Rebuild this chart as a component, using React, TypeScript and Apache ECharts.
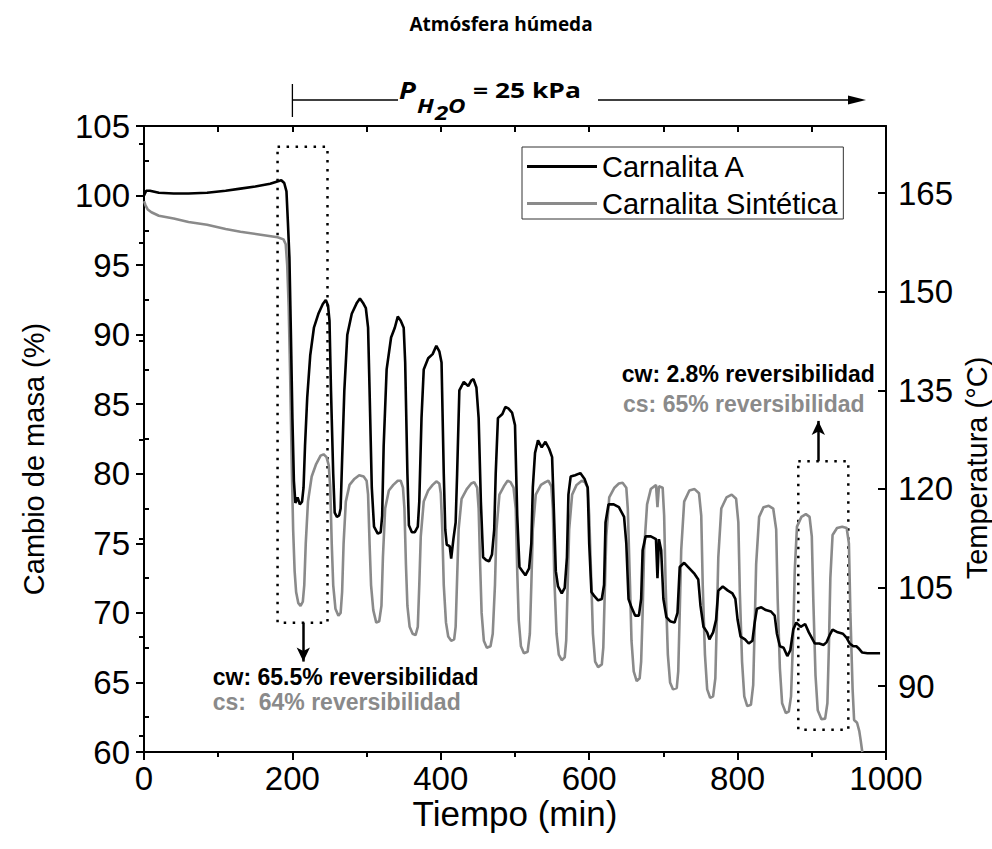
import React, { useEffect, useRef } from 'react';
import * as echarts from 'echarts';

// Carnalita A (black)
const timeA = [0, 3, 8, 20, 40, 60, 85, 110, 130, 150, 170, 185, 189, 192, 194, 196, 198, 200, 202, 204, 207, 210, 213, 215, 217, 220, 224, 229, 235, 241, 245, 248, 250, 252, 255, 257, 260, 263, 265, 267, 270, 274, 280, 287, 291, 295, 299, 302, 304, 307, 310, 315, 319, 321, 323, 327, 333, 338, 342, 346, 350, 352, 355, 357, 361, 365, 369, 371, 374, 377, 383, 389, 394, 398, 401, 404, 406, 408, 412, 414, 417, 420, 422, 425, 431, 437, 441, 444, 448, 451, 454, 457, 461, 465, 469, 472, 474, 477, 483, 487, 491, 496, 500, 503, 506, 510, 514, 519, 522, 524, 527, 531, 536, 541, 546, 550, 552, 555, 558, 563, 567, 570, 572, 575, 581, 588, 594, 598, 600, 603, 607, 612, 617, 620, 622, 626, 633, 640, 647, 650, 653, 657, 662, 667, 670, 672, 676, 683, 690, 692, 694, 697, 700, 704, 709, 715, 719, 722, 728, 735, 742, 747, 750, 754, 759, 762, 767, 771, 774, 780, 787, 793, 797, 800, 804, 810, 815, 820, 823, 826, 832, 838, 845, 850, 853, 857, 862, 867, 871, 875, 879, 885, 891, 896, 900, 904, 910, 916, 920, 924, 928, 935, 942, 947, 951, 956, 960, 964, 968, 975, 985, 992];
const masaA = [100.0, 100.35, 100.35, 100.2, 100.15, 100.15, 100.2, 100.35, 100.5, 100.65, 100.85, 101.1, 100.9, 100.3, 98, 95.5, 90, 84, 79.5, 77.9, 78.3, 77.8, 78.0, 79, 82, 85.5, 88.5, 90.5, 91.5, 92.2, 92.5, 92.1, 91, 86, 80, 77.2, 76.9, 77.0, 77.5, 81, 86, 90, 91.5, 92.3, 92.6, 92.3, 91.9, 90.5, 86, 79, 76.2, 75.7, 75.8, 77, 82, 87.5, 89.8, 90.5, 91.3, 91.0, 90.5, 88, 80, 76.3, 75.8, 75.8, 76.2, 78, 84, 87.5, 88.3, 88.6, 89.2, 88.8, 88, 80, 76, 74.9, 74.8, 73.9, 75.3, 76.5, 80, 86, 86.6, 86.3, 86.7, 86.8, 86.2, 84, 78, 74, 73.8, 73.7, 74.2, 76, 80, 84, 84.3, 84.8, 84.7, 84.4, 83.5, 77, 73.3, 73, 72.7, 73.2, 75, 79, 81.5, 82.4, 81.9, 82.3, 81.8, 81.2, 78, 73, 71.9, 71.4, 71.8, 74, 78.5, 79.8, 79.9, 80.05, 79.6, 79.0, 75, 71.5, 71.2, 70.9, 71.0, 72, 76.5, 77.8, 77.8, 77.6, 76.9, 75, 71, 70.4, 69.8, 69.8, 71, 74.5, 75.5, 75.5, 75.3, 72.5, 75.3, 74.5, 71, 69.7, 69.4, 69.3, 70, 73.3, 73.6, 73.2, 72.8, 72.4, 70.5, 69, 68.6, 68.1, 68.6, 69.5, 71.6, 71.9, 71.6, 71.4, 71.0, 69.5, 68.3, 68.1, 67.8, 68.0, 69.3, 70.3, 70.4, 70.2, 70.1, 69.8, 68.5, 67.6, 67.5, 66.9, 67.3, 68.8, 69.3, 69.0, 69.2, 68.6, 68.2, 67.8, 67.8, 67.7, 67.9, 68.4, 68.8, 68.6, 68.5, 68.2, 67.8, 67.6, 67.6, 67.4, 67.15, 67.1, 67.1, 67.1];

// Carnalita Sintética (gray)
const timeS = [0, 2, 5, 10, 20, 40, 60, 85, 110, 130, 155, 180, 188, 191, 193, 195, 197, 199, 201, 203, 205, 208, 211, 214, 216, 218, 221, 226, 232, 238, 242, 246, 249, 251, 253, 255, 258, 262, 265, 267, 269, 272, 277, 283, 290, 296, 300, 302, 304, 306, 309, 313, 317, 320, 322, 325, 330, 336, 342, 346, 349, 351, 353, 355, 358, 362, 366, 369, 371, 373, 377, 383, 389, 394, 398, 400, 402, 404, 407, 410, 414, 418, 420, 422, 424, 428, 435, 441, 445, 449, 451, 453, 455, 458, 462, 467, 470, 473, 475, 479, 485, 490, 494, 498, 501, 503, 505, 508, 512, 517, 520, 522, 524, 528, 535, 541, 545, 549, 551, 553, 556, 559, 563, 567, 569, 571, 573, 577, 583, 590, 594, 598, 600, 603, 605, 608, 612, 617, 619, 621, 623, 627, 634, 640, 645, 650, 652, 655, 657, 660, 664, 668, 670, 672, 674, 678, 683, 690, 692, 694, 699, 701, 703, 706, 709, 713, 718, 720, 722, 724, 728, 735, 742, 748, 751, 753, 756, 759, 763, 767, 770, 772, 774, 778, 785, 792, 798, 801, 803, 806, 809, 813, 818, 821, 823, 825, 829, 835, 842, 848, 852, 854, 857, 860, 865, 869, 872, 875, 877, 880, 886, 892, 897, 900, 902, 905, 908, 913, 918, 921, 923, 925, 928, 934, 941, 947, 950, 952, 955, 957, 961, 964, 966, 968];
const masaS = [99.6, 99.3, 99.0, 98.8, 98.55, 98.35, 98.1, 97.9, 97.6, 97.4, 97.2, 97.0, 96.85, 96.5, 95, 92, 87, 81, 76, 73, 71.5, 70.7, 70.5, 70.8, 72, 75, 78, 79.8, 80.7, 81.3, 81.4, 81.2, 80.6, 79, 75, 72, 70.3, 69.8, 70.0, 71.5, 75, 78, 79.2, 79.6, 79.9, 79.8, 79.5, 78.5, 75, 72, 70.2, 69.3, 69.4, 70.5, 74, 77.5, 78.8, 79.2, 79.5, 79.5, 79.0, 77.5, 73.5, 70.5, 69.0, 68.5, 68.4, 69, 72, 75.5, 78, 78.8, 79.2, 79.45, 79.3, 78.6, 76, 72, 69.3, 68.3, 68, 68.1, 69, 72.5, 76, 78.2, 78.9, 79.3, 79.4, 79.0, 77.5, 73.5, 70, 68, 67.5, 67.6, 68.5, 72, 76, 78.5, 79.1, 79.5, 79.4, 79.0, 77.5, 73, 69.5, 67.6, 67.1, 67.2, 68.5, 72, 76, 78.5, 79.2, 79.4, 79.5, 79.1, 77.5, 72.5, 68.5, 67, 66.6, 66.8, 68, 72, 76, 78.5, 79.2, 79.5, 79.4, 79.0, 77, 72, 68.5, 66.5, 66.1, 66.3, 67.5, 71.5, 75.5, 78.3, 79.0, 79.3, 79.35, 79.0, 77.5, 72, 68, 65.8, 65.1, 65.3, 66.5, 70, 74.5, 77.8, 78.9, 79.2, 77.6, 79.1, 79.0, 77, 72, 67, 65, 64.5, 64.6, 65.8, 70, 74.5, 78, 78.8, 78.9, 78.6, 77, 72, 67, 64.5, 63.9, 64.0, 65.3, 69.5, 74, 77.5, 78.3, 78.5, 78.2, 76.5, 71.5, 66.5, 64, 63.3, 63.4, 64.8, 69, 73.5, 76.9, 77.6, 77.7, 77.5, 76, 71, 66, 63.5, 62.8, 62.9, 64, 68.5, 73, 76.2, 76.9, 77.1, 76.9, 75.5, 71, 65.5, 63, 62.35, 62.4, 63.5, 67.5, 72.5, 75.6, 76.1, 76.2, 76.1, 75, 70, 64.5, 62.3, 62.1, 61.5, 60.8, 60.0];

// Axis ticks
const massMinorTicks = [62.5, 67.5, 72.5, 77.5, 82.5, 87.5, 92.5, 97.5, 102.5];
const tempLabels = [90, 105, 120, 135, 150, 165];
const tempMinorTicks = [82.5, 97.5, 112.5, 127.5, 142.5, 157.5, 172.5];

const seriesNames = ['Carnalita A', 'Carnalita Sintética'];
const annotLeft = ['cw: 65.5% reversibilidad', 'cs:  64% reversibilidad'];
const annotRight = ['cw: 2.8% reversibilidad', 'cs: 65% reversibilidad'];

const FONT = '"Liberation Sans", Arial, Helvetica, sans-serif';
const GRAY = '#8a8a8a';

export default function App() {
  const ref = useRef<HTMLDivElement>(null);
  useEffect(() => {
    if (!ref.current) return;
    const chart = echarts.init(ref.current, null, { renderer: 'svg' });
    const dataA = timeA.map((t, i) => [t, masaA[i]]);
    const dataS = timeS.map((t, i) => [t, masaS[i]]);
    const axisLineStyle = { color: '#000', width: 2 };
    const hdr = (text: string, x: number, y: number, font: string) => ({
      type: 'text', x, y, scaleX: 1.2, scaleY: 1,
      style: { text, align: 'left', verticalAlign: 'middle', font, fill: '#000' },
    });
    const option: any = {
      animation: false,
      backgroundColor: '#fff',
      textStyle: { fontFamily: FONT },
      grid: { left: 144, right: 106, top: 126, bottom: 97, containLabel: false, outerBoundsMode: 'none' },
      legend: {
        show: true,
        orient: 'vertical',
        left: 522,
        top: 147,
        icon: 'rect',
        itemWidth: 70,
        itemHeight: 3,
        itemGap: 8,
        padding: [5, 6, 1, 5],
        borderColor: '#333',
        borderWidth: 1,
        selectedMode: false,
        data: seriesNames,
        textStyle: { fontSize: 29, color: '#000', fontFamily: FONT },
      },
      xAxis: [
        {
          type: 'value', min: 0, max: 1000, interval: 200, position: 'bottom',
          name: 'Tiempo (min)', nameLocation: 'middle', nameGap: 44, nameMoveOverlap: false,
          nameTextStyle: { fontSize: 35, color: '#000', fontFamily: FONT },
          axisLine: { show: true, onZero: false, lineStyle: axisLineStyle },
          axisTick: { show: true, inside: false, length: 8, lineStyle: axisLineStyle },
          minorTick: { show: true, splitNumber: 2, length: 5, lineStyle: axisLineStyle },
          axisLabel: { fontSize: 33, color: '#000', margin: 10, fontFamily: FONT, formatter: (v: number) => String(v) },
          splitLine: { show: false }, minorSplitLine: { show: false },
        },
        {
          type: 'value', min: 0, max: 1000, interval: 100, position: 'top',
          axisLine: { show: true, onZero: false, lineStyle: axisLineStyle },
          axisTick: { show: true, inside: true, length: 6, lineStyle: axisLineStyle },
          axisLabel: { show: false },
          splitLine: { show: false },
        },
      ],
      yAxis: [
        {
          type: 'value', min: 60, max: 105, interval: 5, position: 'left',
          name: 'Cambio de masa (%)', nameLocation: 'middle', nameGap: 96, nameRotate: 90, nameMoveOverlap: false,
          nameTextStyle: { fontSize: 29, color: '#000', fontFamily: FONT, padding: [0, 40, 0, 0] },
          axisLine: { show: true, onZero: false, lineStyle: axisLineStyle },
          axisTick: { show: true, inside: false, length: 8, lineStyle: axisLineStyle },
          axisLabel: { fontSize: 33, color: '#000', margin: 14, fontFamily: FONT },
          splitLine: { show: false },
        },
        {
          type: 'value', min: 60, max: 105, position: 'left',
          axisLine: { show: false },
          axisTick: { show: true, inside: true, length: 5, lineStyle: axisLineStyle, customValues: massMinorTicks },
          axisLabel: { show: false },
          splitLine: { show: false },
        },
        {
          type: 'value', min: 80, max: 175.2, position: 'right',
          name: 'Temperatura (°C)', nameLocation: 'middle', nameGap: 76, nameRotate: 90, nameMoveOverlap: false,
          nameTextStyle: { fontSize: 29, color: '#000', fontFamily: FONT, padding: [0, 58, 0, 0] },
          axisLine: { show: true, onZero: false, lineStyle: axisLineStyle },
          axisTick: { show: true, inside: true, length: 8, lineStyle: axisLineStyle, customValues: tempLabels },
          axisLabel: { show: true, fontSize: 33, color: '#000', margin: 12, fontFamily: FONT, customValues: tempLabels },
          splitLine: { show: false },
        },
        {
          type: 'value', min: 80, max: 175.2, position: 'right',
          axisLine: { show: false },
          axisTick: { show: true, inside: true, length: 5, lineStyle: axisLineStyle, customValues: tempMinorTicks },
          axisLabel: { show: false },
          splitLine: { show: false },
        },
      ],
      series: [
        {
          name: seriesNames[1], type: 'line', xAxisIndex: 0, yAxisIndex: 0,
          data: dataS, showSymbol: false, symbol: 'none', smooth: false,
          lineStyle: { color: GRAY, width: 2.6 }, itemStyle: { color: GRAY },
          z: 2,
        },
        {
          name: seriesNames[0], type: 'line', xAxisIndex: 0, yAxisIndex: 0,
          data: dataA, showSymbol: false, symbol: 'none', smooth: false,
          lineStyle: { color: '#000', width: 2.6 }, itemStyle: { color: '#000' },
          z: 3,
          markArea: {
            silent: true,
            label: { show: false },
            itemStyle: { color: 'rgba(0,0,0,0)', borderColor: '#000', borderWidth: 2.5, borderType: [2.5, 6.5] },
            data: [
              [{ xAxis: 180, yAxis: 103.5 }, { xAxis: 247.3, yAxis: 69.3 }],
              [{ xAxis: 881.8, yAxis: 80.9 }, { xAxis: 949.2, yAxis: 61.6 }],
            ],
          },
          markLine: {
            silent: true,
            symbol: ['none', 'arrow'],
            symbolSize: [10, 14],
            label: { show: false },
            lineStyle: { color: '#000', width: 2.5, type: 'solid' },
            data: [
              [{ coord: [214.7, 69.3] }, { coord: [214.7, 66.5] }],
              [{ coord: [908.8, 80.9] }, { coord: [908.8, 83.8] }],
            ],
          },
        },
      ],
      graphic: [
        { type: 'text', x: 501, y: 24, style: { text: 'Atmósfera húmeda', align: 'center', verticalAlign: 'middle', font: 'bold 19px "Open Sans"', fill: '#000' } },
        { type: 'line', shape: { x1: 292.4, y1: 84, x2: 292.4, y2: 117 }, style: { stroke: '#000', lineWidth: 1.3 } },
        { type: 'line', shape: { x1: 292.4, y1: 100, x2: 398, y2: 100 }, style: { stroke: '#000', lineWidth: 1.3 } },
        hdr('P', 399, 90, 'italic bold 23px "Open Sans"'),
        hdr('H', 417, 105, 'italic bold 20px "Open Sans"'),
        hdr('2', 435, 112, 'italic bold 20px "Open Sans"'),
        hdr('O', 448, 105, 'italic bold 20px "Open Sans"'),
        hdr('= 25 kPa', 473, 89, 'bold 22px "Open Sans"'),
        { type: 'line', shape: { x1: 598, y1: 100, x2: 852, y2: 100 }, style: { stroke: '#000', lineWidth: 1.3 } },
        { type: 'polygon', shape: { points: [[848, 95.5], [866, 100], [848, 104.5]] }, style: { fill: '#000' } },
        { type: 'text', x: 212.7, y: 677, style: { text: annotLeft[0], align: 'left', verticalAlign: 'middle', font: 'bold 23px "Liberation Sans"', fill: '#000' } },
        { type: 'text', x: 212.7, y: 702, style: { text: annotLeft[1], align: 'left', verticalAlign: 'middle', font: 'bold 23px "Liberation Sans"', fill: GRAY } },
        { type: 'text', x: 621.7, y: 373.5, style: { text: annotRight[0], align: 'left', verticalAlign: 'middle', font: 'bold 23px "Liberation Sans"', fill: '#000' } },
        { type: 'text', x: 623, y: 403.5, style: { text: annotRight[1], align: 'left', verticalAlign: 'middle', font: 'bold 23px "Liberation Sans"', fill: GRAY } },
      ],
    };
    chart.setOption(option);
    return () => chart.dispose();
  }, []);
  return (
    <div
      ref={ref}
      style={{ position: 'fixed', left: 0, top: 0, width: 992, height: 849, background: '#fff' }}
    />
  );
}
